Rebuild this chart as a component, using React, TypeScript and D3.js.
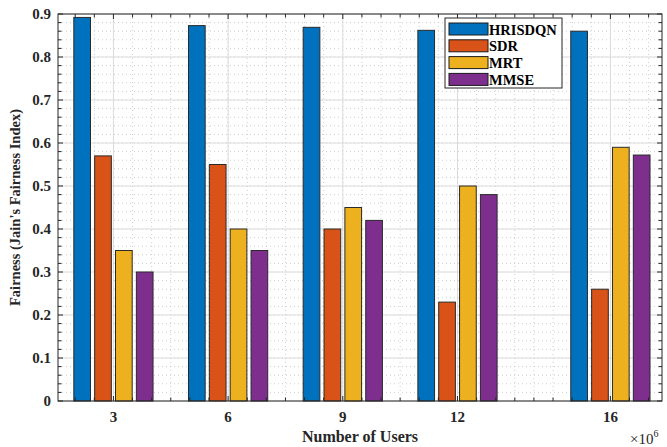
import React, { useEffect, useRef } from "react";
import * as d3 from "d3";

const users = [3, 6, 9, 12, 16];
const series = ["HRISDQN", "SDR", "MRT", "MMSE"];
const hrisdqn = [0.892, 0.873, 0.869, 0.862, 0.86];
const sdr = [0.57, 0.55, 0.4, 0.23, 0.26];
const mrt = [0.35, 0.4, 0.45, 0.5, 0.59];
const mmse = [0.3, 0.35, 0.42, 0.48, 0.572];
const colors = ["#0072BD", "#D95319", "#EDB120", "#7E2F8E"];
const yTicks = [0, 0.1, 0.2, 0.3, 0.4, 0.5, 0.6, 0.7, 0.8, 0.9];

const W = 667;
const H = 447;
const FONT = "'Liberation Serif', 'Times New Roman', serif";

const App = () => {
  const chartEl = useRef(null);

  useEffect(() => {
    const svg = d3.select(chartEl.current);
    svg.selectAll("*").remove();

    const left = 58,
      right = 662,
      top = 14,
      bottom = 401;

    const xScale = d3.scaleLinear().domain([1.55, 17.35]).range([left, right]);
    const yScale = d3.scaleLinear().domain([0, 0.9]).range([bottom, top]);

    // MATLAB grouped bar: group width 4/5.5 of the smallest spacing (3)
    const groupPx = xScale(3 + (3 * 4) / 5.5) - xScale(3);
    const inner = d3
      .scaleBand()
      .domain(series)
      .range([-groupPx / 2, groupPx / 2])
      .paddingInner(0.2)
      .paddingOuter(0.1);

    const allVals = [hrisdqn, sdr, mrt, mmse];
    const data = [];
    users.forEach((u, i) => {
      series.forEach((s, j) => {
        data.push({ u, s, j, v: allVals[j][i] });
      });
    });

    svg.append("rect").attr("width", W).attr("height", H).attr("fill", "#fff");

    const g = svg.append("g");

    // minor grid
    const xMinor = d3.range(2, 17.4, 0.5);
    const yMinor = d3.range(0.02, 0.9, 0.02);
    g.selectAll(".xminor")
      .data(xMinor)
      .enter()
      .append("line")
      .attr("x1", (d) => xScale(d))
      .attr("x2", (d) => xScale(d))
      .attr("y1", top)
      .attr("y2", bottom)
      .attr("stroke", "#c8c8c8")
      .attr("stroke-dasharray", "1,3")
      .attr("stroke-width", 0.9);
    g.selectAll(".yminor")
      .data(yMinor)
      .enter()
      .append("line")
      .attr("x1", left)
      .attr("x2", right)
      .attr("y1", (d) => yScale(d))
      .attr("y2", (d) => yScale(d))
      .attr("stroke", "#c8c8c8")
      .attr("stroke-dasharray", "1,3")
      .attr("stroke-width", 0.9);

    // major grid
    g.selectAll(".xmajor")
      .data(users)
      .enter()
      .append("line")
      .attr("x1", (d) => xScale(d))
      .attr("x2", (d) => xScale(d))
      .attr("y1", top)
      .attr("y2", bottom)
      .attr("stroke", "#dcdcdc")
      .attr("stroke-width", 1);
    g.selectAll(".ymajor")
      .data(yTicks)
      .enter()
      .append("line")
      .attr("x1", left)
      .attr("x2", right)
      .attr("y1", (d) => yScale(d))
      .attr("y2", (d) => yScale(d))
      .attr("stroke", "#dcdcdc")
      .attr("stroke-width", 1);

    // bars
    g.selectAll(".bar")
      .data(data)
      .enter()
      .append("rect")
      .attr("x", (d) => xScale(d.u) + inner(d.s))
      .attr("y", (d) => yScale(d.v))
      .attr("width", inner.bandwidth())
      .attr("height", (d) => yScale(0) - yScale(d.v))
      .attr("fill", (d) => colors[d.j])
      .attr("stroke", "#2a2a2a")
      .attr("stroke-width", 1);

    // ticks (inward, all four sides)
    const tk = g.append("g").attr("stroke", "#262626").attr("stroke-width", 1);
    xMinor.forEach((d) => {
      const x = xScale(d);
      const len = users.includes(d) ? 5 : 3.5;
      tk.append("line").attr("x1", x).attr("x2", x).attr("y1", bottom).attr("y2", bottom - len);
      tk.append("line").attr("x1", x).attr("x2", x).attr("y1", top).attr("y2", top + len);
    });
    d3.range(0, 0.901, 0.02).forEach((d) => {
      const y = yScale(d);
      const major = Math.abs(Math.round(d * 10) - d * 10) < 1e-6;
      const len = major ? 5 : 3.5;
      tk.append("line").attr("x1", left).attr("x2", left + len).attr("y1", y).attr("y2", y);
      tk.append("line").attr("x1", right).attr("x2", right - len).attr("y1", y).attr("y2", y);
    });

    // box
    g.append("rect")
      .attr("x", left)
      .attr("y", top)
      .attr("width", right - left)
      .attr("height", bottom - top)
      .attr("fill", "none")
      .attr("stroke", "#262626")
      .attr("stroke-width", 1);

    // tick labels
    g.selectAll(".xl")
      .data(users)
      .enter()
      .append("text")
      .attr("x", (d) => xScale(d))
      .attr("y", bottom + 21)
      .attr("text-anchor", "middle")
      .attr("font-family", FONT)
      .attr("font-weight", "bold")
      .attr("font-size", 15)
      .attr("fill", "#262626")
      .text((d) => d);
    g.selectAll(".yl")
      .data(yTicks)
      .enter()
      .append("text")
      .attr("x", left - 7)
      .attr("y", (d) => yScale(d) + 5)
      .attr("text-anchor", "end")
      .attr("font-family", FONT)
      .attr("font-weight", "bold")
      .attr("font-size", 15)
      .attr("fill", "#262626")
      .text((d) => (d === 0 ? "0" : d3.format(".1f")(d)));

    // axis titles
    g.append("text")
      .attr("x", (left + right) / 2)
      .attr("y", 442)
      .attr("text-anchor", "middle")
      .attr("font-family", FONT)
      .attr("font-weight", "bold")
      .attr("font-size", 16)
      .attr("fill", "#262626")
      .text("Number of Users");
    g.append("text")
      .attr("transform", `translate(20,${(top + bottom) / 2}) rotate(-90)`)
      .attr("text-anchor", "middle")
      .attr("font-family", FONT)
      .attr("font-weight", "bold")
      .attr("font-size", 14.5)
      .attr("fill", "#262626")
      .text("Fairness (Jain's Fairness Index)");

    const ex = g
      .append("text")
      .attr("x", 630)
      .attr("y", 444)
      .attr("font-family", FONT)
      .attr("font-size", 15)
      .attr("fill", "#262626");
    ex.append("tspan").text("\u00d710");
    ex.append("tspan").attr("dy", -7).attr("font-size", 10).text("6");

    // legend
    const lg = g.append("g").attr("transform", "translate(445,18)");
    lg.append("rect")
      .attr("width", 117)
      .attr("height", 70)
      .attr("fill", "#fff")
      .attr("stroke", "#262626")
      .attr("stroke-width", 1);
    series.forEach((s, j) => {
      const row = lg.append("g").attr("transform", `translate(4,${5 + j * 16.8})`);
      row.append("rect")
        .attr("width", 39)
        .attr("height", 12)
        .attr("fill", colors[j])
        .attr("stroke", "#1a1a1a")
        .attr("stroke-width", 1);
      row.append("text")
        .attr("x", 40)
        .attr("y", 11.5)
        .attr("font-family", FONT)
        .attr("font-weight", "bold")
        .attr("font-size", 14.5)
        .attr("fill", "#000")
        .text(s);
    });
  }, [chartEl]);

  return (
    <svg
      ref={chartEl}
      width={W}
      height={H}
      style={{ position: "absolute", left: 0, top: 0, display: "block" }}
    ></svg>
  );
};

export default App;
